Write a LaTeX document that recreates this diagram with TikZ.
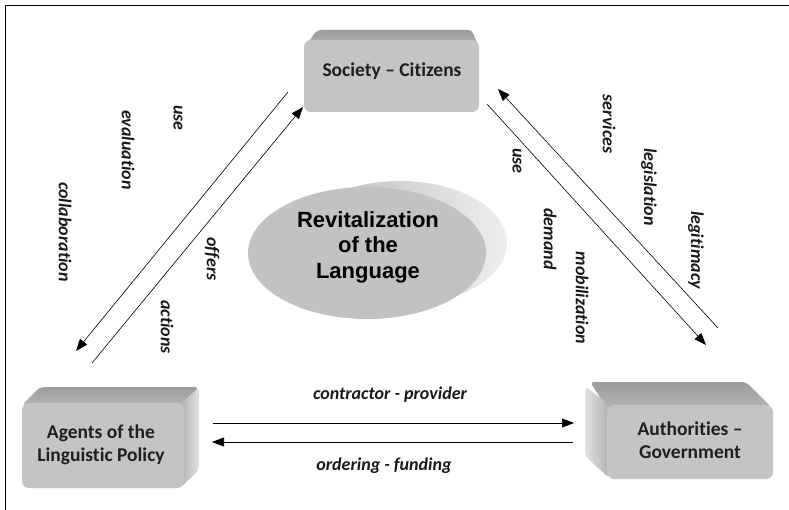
\documentclass[tikz,border=0pt]{standalone}
\usepackage{fontspec}
\newfontfamily\carlito[Ligatures={TeX,NoCommon}]{Carlito}
\newfontfamily\arialfont{Liberation Sans}
\usetikzlibrary{arrows.meta}
\definecolor{facefront}{HTML}{C4C4C4}
\definecolor{facetopA}{HTML}{9C9C9C}
\definecolor{facetopB}{HTML}{B4B4B4}
\definecolor{facesideA}{HTML}{E2E2E2}
\definecolor{facesideB}{HTML}{B0B0B0}
\definecolor{ellfront}{HTML}{C2C2C2}
\definecolor{ellbackA}{HTML}{B8B8B8}
\definecolor{ellbackB}{HTML}{EEEEEE}
\begin{document}
\begin{tikzpicture}[x=1pt,y=-1pt,
  conn/.style={line width=0.6pt,-{Triangle[length=12pt,width=9pt]}},
  lbl/.style={font=\carlito\bfseries\itshape\fontsize{18}{20}\selectfont,rotate=-90,inner sep=0pt,text=black!90},
  hlbl/.style={font=\carlito\bfseries\itshape\fontsize{18}{20}\selectfont,text=black!90},
  boxtxt/.style={font=\carlito\bfseries\fontsize{19.5}{23}\selectfont,align=center,text=black!88},
  front/.style={fill=facefront,rounded corners=7pt},
  topface/.style={top color=facetopA,bottom color=facetopB,rounded corners=4pt},
  sideface/.style={left color=facesideA,right color=facesideB,rounded corners=4pt},
  revtxt/.style={font=\arialfont\bfseries\fontsize{22}{25.5}\selectfont,align=center}
]
\useasboundingbox (0,0) rectangle (789,510);
\fill[white] (0,0) rectangle (789,510);
% frame
\draw[line width=1pt] (5.5,510) -- (5.5,5.5) -- (789,5.5);

% ---- Society box
\shade[topface] (317,30) -- (472,30) -- (479,48) -- (304,48) -- cycle;
\fill[front] (304,40) rectangle (479,112);
\node[boxtxt] (soc) at (392,71) {Society – Citizens};

% ---- Agents box
\shade[topface] (22,405) -- (40,387) -- (199,387) -- (183,405) -- cycle;
\shade[left color=facesideB,right color=facesideA,rounded corners=4pt] (180,405) -- (199,387) -- (199,470) -- (180,488) -- cycle;
\fill[front] (22,403) rectangle (184,488);
\node[boxtxt] (agt) at (101,445) {Agents of the\\Linguistic Policy};

% ---- Authorities box
\shade[topface] (590,382) -- (746,382) -- (772,408) -- (607,408) -- cycle;
\shade[sideface] (585,386) -- (609,405) -- (609,478) -- (585,456) -- cycle;
\fill[front] (607,405) rectangle (773,479);
\node[boxtxt] (aut) at (690,440) {Authorities –\\Government};

% ---- Revitalization ellipses
\shade[left color=ellbackA,right color=ellbackB] (400,243) ellipse [x radius=107,y radius=62];
\fill[ellfront] (367,253) ellipse [x radius=119,y radius=66];
\node[revtxt] (rev) at (368,247) {Revitalization\\of the\\Language};

% ---- arrow end points
\coordinate (a1s) at (288,92);  \coordinate (a1e) at (76,351);
\coordinate (a2s) at (92,363);  \coordinate (a2e) at (303,107);
\coordinate (b1s) at (718,328); \coordinate (b1e) at (498,89);
\coordinate (b2s) at (487,104); \coordinate (b2e) at (706,345);
\coordinate (h1s) at (213,423); \coordinate (h1e) at (574,423);
\coordinate (h2s) at (573,442); \coordinate (h2e) at (212,442);
\draw[conn] (a1s) -- (a1e);
\draw[conn] (a2s) -- (a2e);
\draw[conn] (b1s) -- (b1e);
\draw[conn] (b2s) -- (b2e);
\draw[conn] (h1s) -- (h1e);
\draw[conn] (h2s) -- (h2e);

% ---- labels
\node[lbl] (l1) at (178,118) {use};
\node[lbl] (l2) at (128,150) {evaluation};
\node[lbl] (l3) at (65,232) {collaboration};
\node[lbl] (l4) at (212,259) {offers};
\node[lbl] (l5) at (167,327) {actions};
\node[lbl] (r1) at (517,161) {use};
\node[lbl] (r2) at (550,239) {demand};
\node[lbl] (r3) at (582,298) {mobilization};
\node[lbl] (r4) at (609,124) {services};
\node[lbl] (r5) at (649,187) {legislation};
\node[lbl] (r6) at (696,250) {legitimacy};
\node[hlbl] (h1l) at (390,395) {contractor - provider};
\node[hlbl] (h2l) at (384,466) {ordering - funding};
\end{tikzpicture}
\end{document}
